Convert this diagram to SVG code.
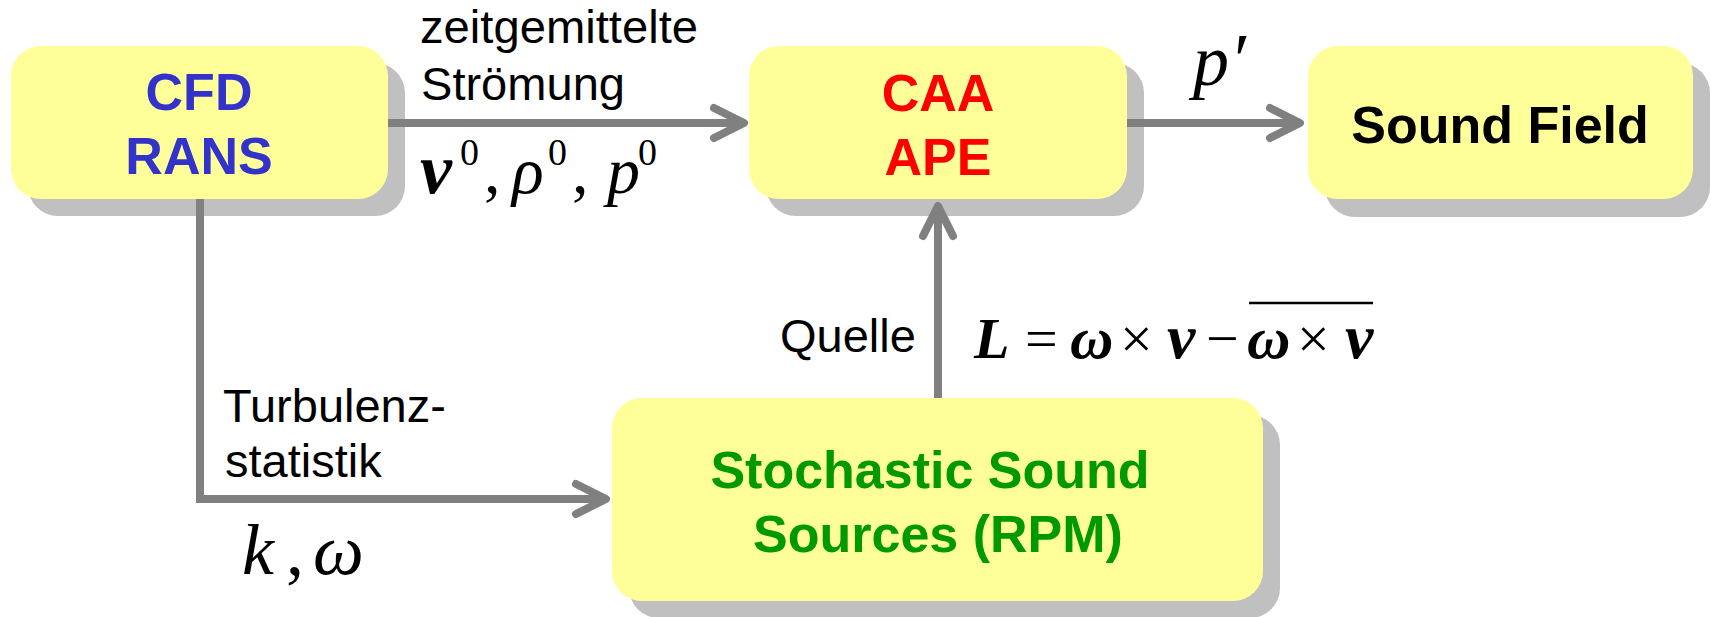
<svg xmlns="http://www.w3.org/2000/svg" width="1711" height="617" viewBox="0 0 1711 617">
<style>
.shadow{fill:#c0c0c0}
.box{fill:#ffff99}
.nt{font-family:"Liberation Sans",Arial,sans-serif;font-weight:bold;font-size:52px;text-anchor:middle}
.lbl{font-family:"Liberation Sans",Arial,sans-serif;font-size:47px;fill:#000}
.m{font-family:"Liberation Serif","Times New Roman",serif;font-style:italic;fill:#000}
.mb{font-family:"Liberation Serif","Times New Roman",serif;font-style:italic;font-weight:bold;fill:#000}
.mr{font-family:"Liberation Serif","Times New Roman",serif;fill:#000}
.conn{fill:none;stroke:#808080;stroke-width:8;marker-end:url(#arr)}
</style>
<defs>
<marker id="arr" markerUnits="userSpaceOnUse" markerWidth="50" markerHeight="50" viewBox="-40 -25 50 50" refX="0" refY="0" orient="auto" overflow="visible">
<path d="M-30 -15 L0 0 L-30 15" fill="none" stroke="#808080" stroke-width="8" stroke-linecap="round" stroke-linejoin="round"/>
</marker>
</defs>
<rect width="1711" height="617" fill="#ffffff"/>
<g id="cfd">
<rect class="shadow" x="28" y="63" width="377" height="153" rx="30"/>
<rect class="box" x="11" y="46" width="377" height="153" rx="30"/>
<text class="nt" x="199" y="110" fill="#3333cc">CFD</text>
<text class="nt" x="199" y="174" fill="#3333cc">RANS</text>
</g>
<g id="caa">
<rect class="shadow" x="766" y="63" width="378" height="153" rx="30"/>
<rect class="box" x="749" y="46" width="378" height="153" rx="30"/>
<text class="nt" x="938" y="111" fill="#ff0000">CAA</text>
<text class="nt" x="938" y="175" fill="#ff0000">APE</text>
</g>
<g id="sound">
<rect class="shadow" x="1325" y="63" width="385" height="154" rx="30"/>
<rect class="box" x="1308" y="46" width="385" height="153" rx="30"/>
<text class="nt" x="1500" y="143" fill="#000000">Sound Field</text>
</g>
<g id="stoch">
<rect class="shadow" x="629" y="415" width="651" height="203" rx="30"/>
<rect class="box" x="612" y="398" width="651" height="203" rx="30"/>
<text class="nt" x="930" y="488" fill="#009900">Stochastic Sound</text>
<text class="nt" x="938" y="552" fill="#009900">Sources (RPM)</text>
</g>
<g id="connectors">
<path class="conn" d="M388 123 H744"/>
<path class="conn" d="M1127 123 H1300"/>
<path class="conn" d="M938 398 V206"/>
<path class="conn" d="M200 199 V499 H606"/>
</g>
<g id="labels">
<text class="lbl" x="420" y="43" font-size="40" textLength="278" lengthAdjust="spacingAndGlyphs">zeitgemittelte</text>
<text class="lbl" x="421" y="100" font-size="40" textLength="204" lengthAdjust="spacingAndGlyphs">Strömung</text>
<text class="mb" x="420" y="193" font-size="72">v</text>
<text class="mr" x="460" y="165" font-size="38">0</text>
<text class="mr" x="484" y="193" font-size="66">,</text>
<text class="m" x="512" y="193" font-size="66">ρ</text>
<text class="mr" x="548" y="165" font-size="38">0</text>
<text class="mr" x="572" y="193" font-size="66">,</text>
<text class="m" x="607" y="193" font-size="66">p</text>
<text class="mr" x="638" y="165" font-size="38">0</text>
<text class="m" x="1193" y="85" font-size="72">p</text>
<text class="mr" x="1234" y="85" font-size="74">′</text>
<text class="lbl" x="780" y="352">Quelle</text>
<text class="mb" x="974" y="358" font-size="58">L</text>
<text class="mr" x="1025" y="358" font-size="58">=</text>
<text class="mb" x="1070" y="358" font-size="60">ω</text>
<text class="mr" x="1120" y="358" font-size="58">×</text>
<text class="mb" x="1167" y="358" font-size="64">v</text>
<text class="mr" x="1206" y="358" font-size="58">−</text>
<text class="mb" x="1247" y="358" font-size="60">ω</text>
<text class="mr" x="1297" y="358" font-size="58">×</text>
<text class="mb" x="1345" y="358" font-size="64">v</text>
<line x1="1249" y1="303" x2="1373" y2="303" stroke="#000" stroke-width="2.5"/>
<text class="lbl" x="223" y="422">Turbulenz-</text>
<text class="lbl" x="225" y="477">statistik</text>
<text class="m" x="242" y="574" font-size="72">k</text>
<text class="mr" x="286" y="574" font-size="72">,</text>
<text class="m" x="313" y="574" font-size="72">ω</text>
</g>
</svg>
